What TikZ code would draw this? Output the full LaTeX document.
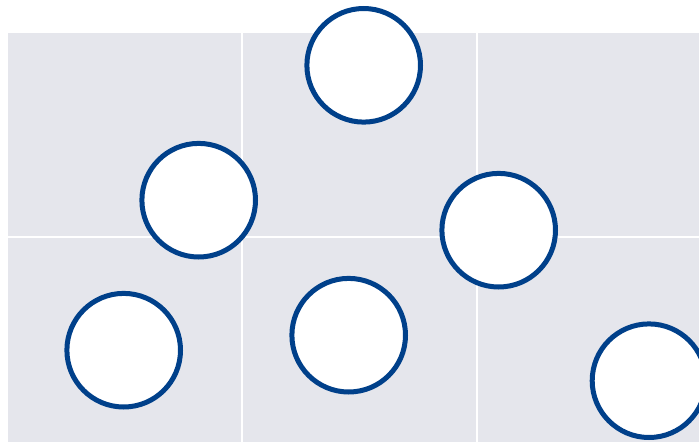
\documentclass[tikz,border=0pt]{standalone}
\usepackage{xcolor}
\usepackage{tikz}
\usetikzlibrary{positioning}
\definecolor{field}{HTML}{E5E6EC}
\definecolor{navy}{HTML}{00408A}

\begin{document}
\begin{tikzpicture}[
  x=1pt, y=-1pt,
  cell/.style={fill=field, draw=none},
  grid/.style={draw=white, line width=2.5pt},
  dot/.style={circle, draw=navy, line width=5pt, fill=white, inner sep=0pt, minimum size=113.6pt}]
\useasboundingbox (0,0) rectangle (699,442);
\fill[cell] (8,33) rectangle (699,442);
\coordinate (c1) at (242,33); \coordinate (c1b) at (242,442);
\coordinate (c2) at (477,33); \coordinate (c2b) at (477,442);
\coordinate (r1) at (8,237); \coordinate (r1b) at (699,237);
\draw[grid] (c1) -- (c1b);
\draw[grid] (c2) -- (c2b);
\draw[grid] (r1) -- (r1b);
\node[dot] (top) at (363.7,65.3) {};
\node[dot] (midl) at (198.7,200.2) {};
\node[dot] (midr) at (498.7,230.2) {};
\node[dot] (lowl) at (123.7,350.2) {};
\node[dot] (lowc) at (348.7,335.2) {};
\node[dot] (lowr) at (649,380.7) {};
\end{tikzpicture}
\end{document}
